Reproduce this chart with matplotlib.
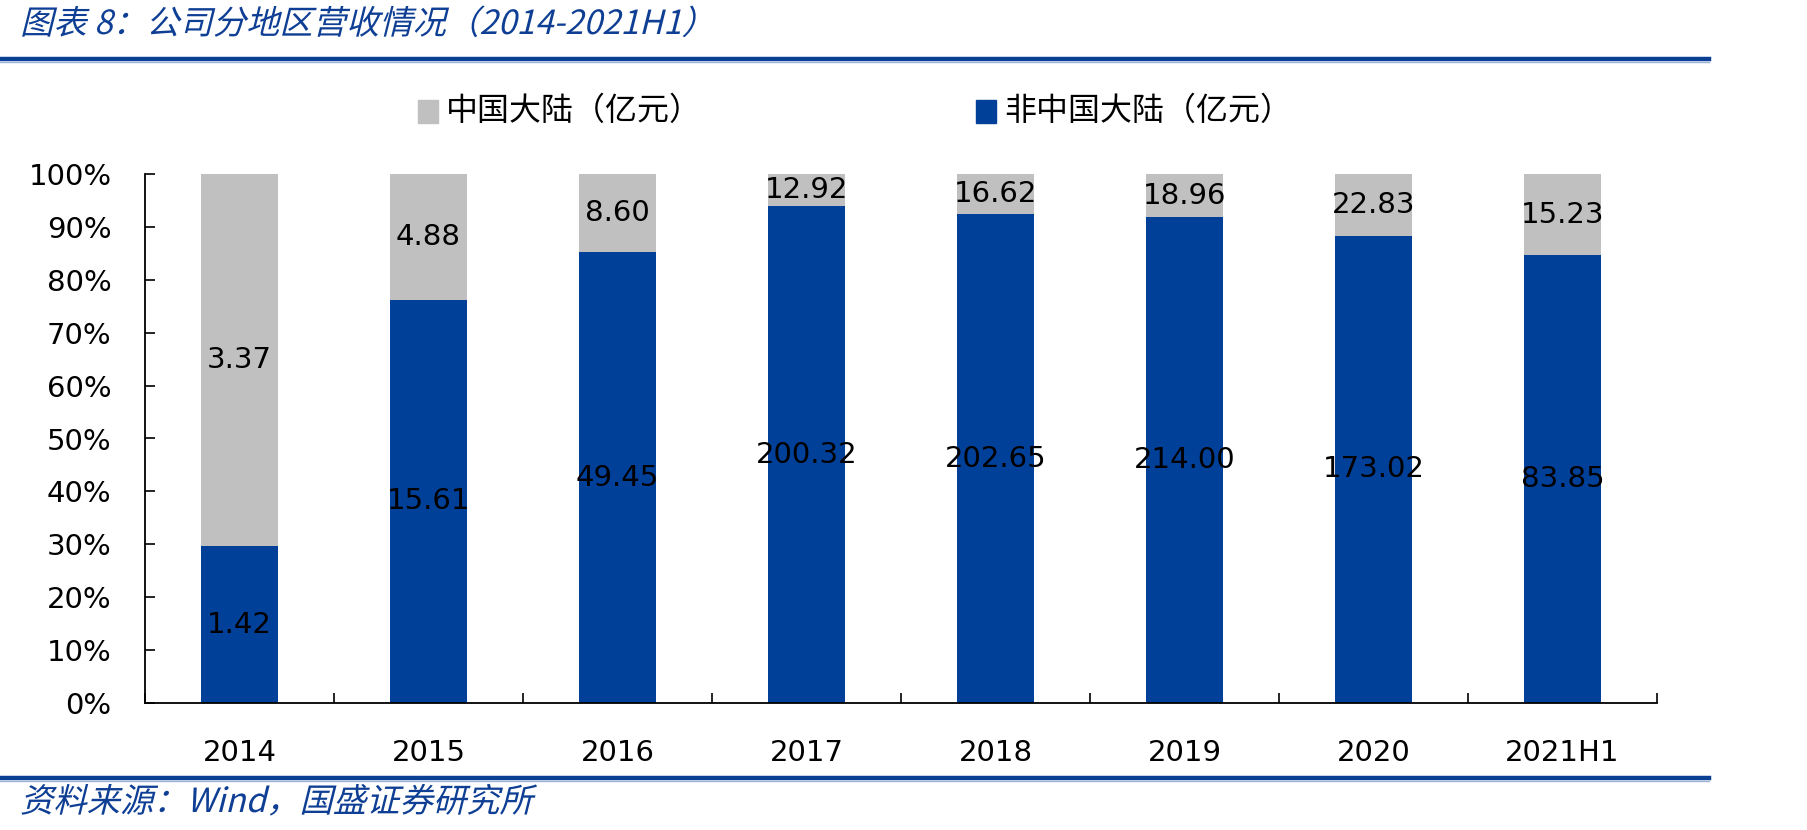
import matplotlib
matplotlib.use("Agg")
import matplotlib.pyplot as plt
from matplotlib.font_manager import FontProperties
from matplotlib.textpath import TextPath
from matplotlib.patches import PathPatch, Rectangle
from matplotlib.transforms import Affine2D
from matplotlib.lines import Line2D
import numpy as np

plt.rcParams['font.family'] = ['DejaVu Sans', 'Noto Sans CJK SC']

categories = ["2014", "2015", "2016", "2017", "2018", "2019", "2020", "2021H1"]
mainland = [3.37, 4.88, 8.60, 12.92, 16.62, 18.96, 22.83, 15.23]
non_mainland = [1.42, 15.61, 49.45, 200.32, 202.65, 214.00, 173.02, 83.85]
yticklabels = ["0%", "10%", "20%", "30%", "40%", "50%", "60%", "70%", "80%", "90%", "100%"]
legend_labels = ["中国大陆（亿元）", "非中国大陆（亿元）"]
title_text = "图表 8：公司分地区营收情况（2014-2021H1）"
source_text = "资料来源：Wind，国盛证券研究所"

GRAY = "#C0C0C0"
BLUE = "#004098"
TBLUE = "#0F3F94"

W, H = 1807, 830
DPI = 100
fig = plt.figure(figsize=(W / DPI, H / DPI), dpi=DPI)

left, right, top, bottom = 145, 1657, 174, 703
ax = fig.add_axes([left / W, 1 - bottom / H, (right - left) / W, (bottom - top) / H])

m = np.array(mainland)
n = np.array(non_mainland)
tot = m + n
n_share = n / tot * 100
m_share = m / tot * 100
x = np.arange(len(categories))
bw = 0.41
ax.bar(x, n_share, width=bw, color=BLUE, zorder=2)
ax.bar(x, m_share, width=bw, bottom=n_share, color=GRAY, zorder=2)

for i in range(len(categories)):
    ax.text(x[i], n_share[i] / 2, f"{non_mainland[i]:.2f}", ha="center", va="center",
            fontsize=21, color="black", zorder=3)
    ax.text(x[i], n_share[i] + m_share[i] / 2, f"{mainland[i]:.2f}", ha="center", va="center",
            fontsize=21, color="black", zorder=3)

ax.set_xlim(-0.5, len(categories) - 0.5)
ax.set_ylim(0, 100)
ax.set_yticks(np.arange(0, 101, 10))
ax.set_yticklabels(yticklabels, fontsize=21)
ax.set_xticks(x)
ax.set_xticklabels(categories, fontsize=21)
ax.set_xticks(np.arange(-0.5, len(categories), 1), minor=True)
ax.tick_params(axis="x", which="major", length=0, pad=26)
ax.tick_params(axis="x", which="minor", direction="in", length=7.5, width=1.2)
ax.tick_params(axis="y", direction="in", length=7.5, width=1.2, pad=24)
for s in ["top", "right"]:
    ax.spines[s].set_visible(False)
for s in ["left", "bottom"]:
    ax.spines[s].set_linewidth(1.3)

# legend (manual)
def px_rect(x0, y0, w, h, color):
    fig.patches.append(Rectangle((x0 / W, 1 - (y0 + h) / H), w / W, h / H,
                                 transform=fig.transFigure, color=color))

px_rect(418, 100, 20, 23, GRAY)
fig.text(446 / W, 1 - 111 / H, legend_labels[0], fontsize=23,
         family=['Noto Sans CJK SC', 'DejaVu Sans'], va="center", ha="left")
px_rect(976, 100, 20, 23, BLUE)
fig.text(1004 / W, 1 - 111 / H, legend_labels[1], fontsize=23,
         family=['Noto Sans CJK SC', 'DejaVu Sans'], va="center", ha="left")

# italic (skewed) text helper
def skew_text(s, x_px, y_px, size_pt, color):
    fp = FontProperties(family=['Noto Sans CJK SC', 'DejaVu Sans'])
    tp = TextPath((0, 0), s, prop=fp, size=size_pt)
    tr = (Affine2D().skew_deg(14, 0).scale(1 / 72.0)
          .translate(x_px / DPI, (H - y_px) / DPI) + fig.dpi_scale_trans)
    fig.patches.append(PathPatch(tp, transform=tr, color=color, lw=0))

skew_text(title_text, 20, 34, 24, TBLUE)
skew_text(source_text, 20, 812, 24, TBLUE)

# horizontal rules
for yy in (59, 778):
    fig.lines.append(Line2D([0, 1709 / W], [1 - yy / H, 1 - yy / H], transform=fig.transFigure,
                            color="#0B3F94", lw=3.2))
    fig.lines.append(Line2D([0, 1709 / W], [1 - (yy + 3.4) / H, 1 - (yy + 3.4) / H],
                            transform=fig.transFigure, color="#9DB3D8", lw=1.0))

fig.savefig("out.png", dpi=DPI)
